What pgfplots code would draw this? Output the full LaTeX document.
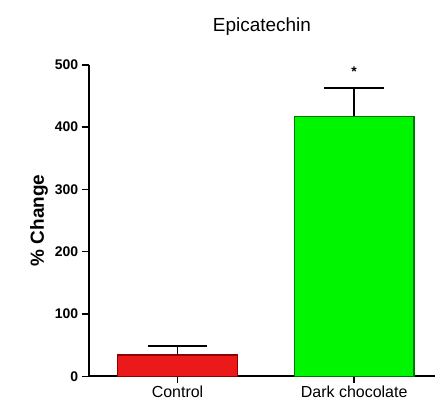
\documentclass[border=0pt]{standalone}
\usepackage{fontspec}
\setmainfont{Liberation Sans}
\usepackage{pgfplots}
\pgfplotsset{compat=1.18}
\definecolor{ctrlred}{RGB}{235,25,25}
\definecolor{ctrledge}{RGB}{140,0,0}
\definecolor{dcgreen}{RGB}{0,245,0}
\definecolor{dcedge}{RGB}{0,120,0}
\begin{document}
\begin{tikzpicture}
\begin{axis}[
  scale only axis,
  width=347pt, height=312pt,
  xmin=-0.503, xmax=1.458,
  ymin=0, ymax=500,
  axis x line=bottom, axis y line=left,
  axis line style={line width=1.8pt, -},
  xtick={0,1},
  xticklabels={Control, Dark chocolate},
  ytick={0,100,200,300,400,500},
  tick style={line width=1.5pt, black},
  tick align=outside,
  major tick length=7pt,
  x tick label style={font=\fontsize{16}{18}\selectfont, yshift=1pt},
  y tick label style={font=\fontsize{14}{16}\selectfont\bfseries},
  /pgf/number format/assume math mode=true,
  ylabel={\% Change},
  ylabel style={font=\fontsize{19}{22}\selectfont\bfseries, yshift=0pt},
  title={Epicatechin},
  title style={font=\fontsize{19}{22}\selectfont, yshift=20pt},
  ybar, bar width=120pt, bar shift=0pt,
  clip=false,
]
\addplot+[fill=ctrlred, draw=ctrledge, line width=1.5pt,
  error bars/.cd, y dir=plus, y explicit,
  error bar style={line width=1.8pt, black},
  error mark options={line width=1.8pt, black, mark size=30pt, rotate=90}]
  coordinates {(0,34) +- (0,14)};
\addplot+[fill=dcgreen, draw=dcedge, line width=1.5pt,
  error bars/.cd, y dir=plus, y explicit,
  error bar style={line width=1.8pt, black},
  error mark options={line width=1.8pt, black, mark size=30pt, rotate=90}]
  coordinates {(1,417) +- (0,46)};
\node[font=\fontsize{14}{16}\selectfont\bfseries] at (axis cs:1,489) {*};
\path (rel axis cs:-0.256,-0.112) (rel axis cs:1,1.208);
\end{axis}
\end{tikzpicture}
\end{document}
